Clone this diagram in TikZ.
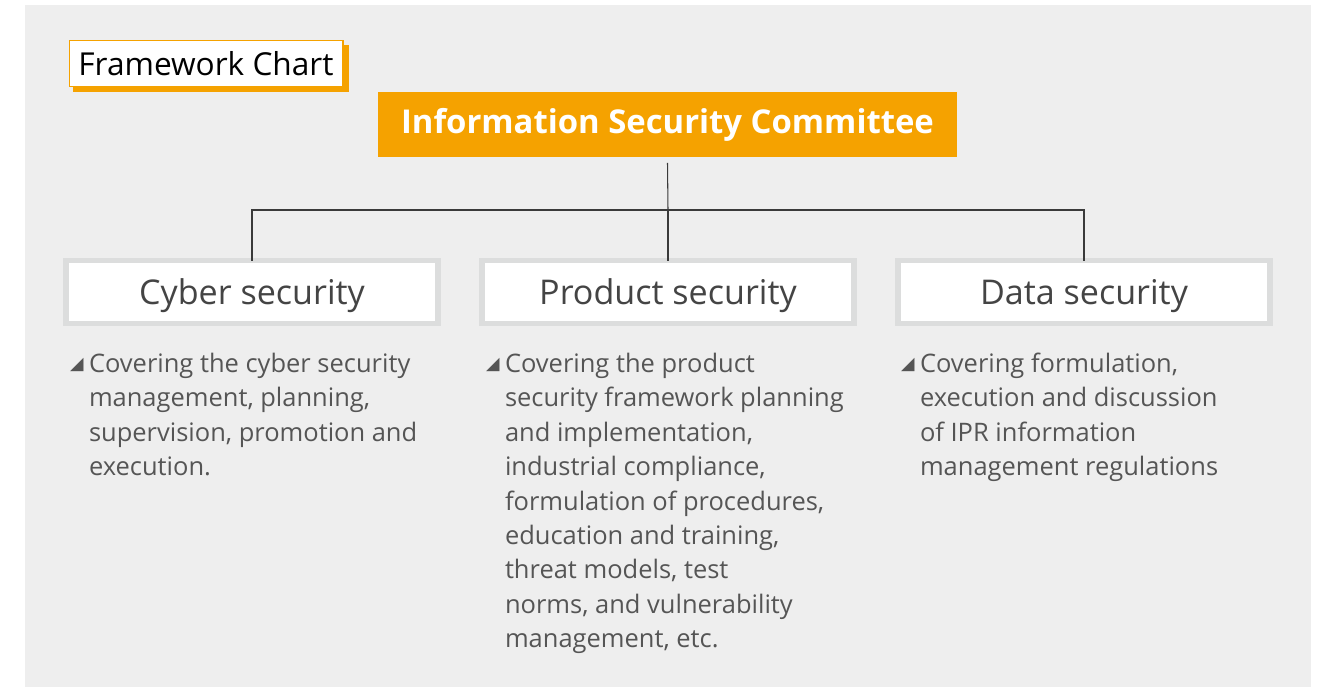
\documentclass[tikz,border=0pt]{standalone}
\usepackage{fontspec}
\setmainfont{Open Sans}
\newfontfamily\symfont{DejaVu Sans}
\usetikzlibrary{positioning}
\definecolor{panelGray}{HTML}{EEEEEE}
\definecolor{chartOrange}{HTML}{F5A200}
\definecolor{rimGray}{HTML}{DCDDDD}
\definecolor{wireDark}{HTML}{3A3A3A}
\definecolor{bodyGray}{HTML}{555555}
\definecolor{titleGray}{HTML}{444444}

\begin{document}
\begin{tikzpicture}[x=0.02cm, y=-0.02cm,
    every node/.style={inner sep=0pt, outer sep=0pt},
    areabox/.style={draw=rimGray, fill=white, line width=3.1pt,
      minimum width=7.44cm, minimum height=1.26cm, text depth=0pt,
      text=titleGray, font=\fontsize{19.4}{23}\selectfont},
    bodytext/.style={align=left, anchor=north west, text=bodyGray,
      font=\fontsize{14.5}{19.6}\selectfont},
    tick/.style={text=bodyGray, font=\symfont\fontsize{10}{11}\selectfont},
    wire/.style={draw=wireDark, line width=0.6pt}]
  % panel and page size
  \useasboundingbox (0,0) rectangle (1319,687);
  \fill[panelGray] (25,5) rectangle (1311,687);
  % caption tab with its offset shadow
  \fill[chartOrange] (73,45) rectangle (349,92);
  \node[draw=chartOrange, fill=white, line width=0.6pt,
    minimum width=5.48cm, minimum height=0.92cm,
    font=\fontsize{18}{22}\selectfont] (chart) at (206,63.5) {Framework Chart};
  % top of the tree
  \node[fill=chartOrange, text=white, minimum width=11.58cm, minimum height=1.3cm,
    font=\bfseries\fontsize{18.7}{22}\selectfont] (isc) at (667.5,124.5) {Information Security Committee};
  % the three areas
  \node[areabox] (cyber) at (252,292) {Cyber security};
  \node[areabox] (product) at (668,292) {Product security};
  \node[areabox] (data) at (1084,292) {Data security};
  \coordinate (bus) at (668,210);
  \draw[wire] ([yshift=-3.4pt]isc.south) -- (bus);
  \draw[wire] (cyber.north) |- (bus) -| (data.north);
  \draw[wire] (bus) -- (product.north);
  % descriptions
  \node[bodytext] (cyberTxt) at (89,353) {Covering the cyber security\\management, planning,\\supervision, promotion and\\execution.};
  \node[bodytext] (productTxt) at (505,353) {Covering the product\\security framework planning\\and implementation,\\industrial compliance,\\formulation of procedures,\\education and training,\\threat models, test\\norms, and vulnerability\\management, etc.};
  \node[bodytext] (dataTxt) at (920,353) {Covering formulation,\\execution and discussion\\of IPR information\\management regulations};
  \node[tick, left=3pt of cyberTxt.north west, anchor=north east, yshift=-3.2pt] (cyberTick) {◢};
  \node[tick, left=3pt of productTxt.north west, anchor=north east, yshift=-3.2pt] (productTick) {◢};
  \node[tick, left=3pt of dataTxt.north west, anchor=north east, yshift=-3.2pt] (dataTick) {◢};
\end{tikzpicture}
\end{document}
